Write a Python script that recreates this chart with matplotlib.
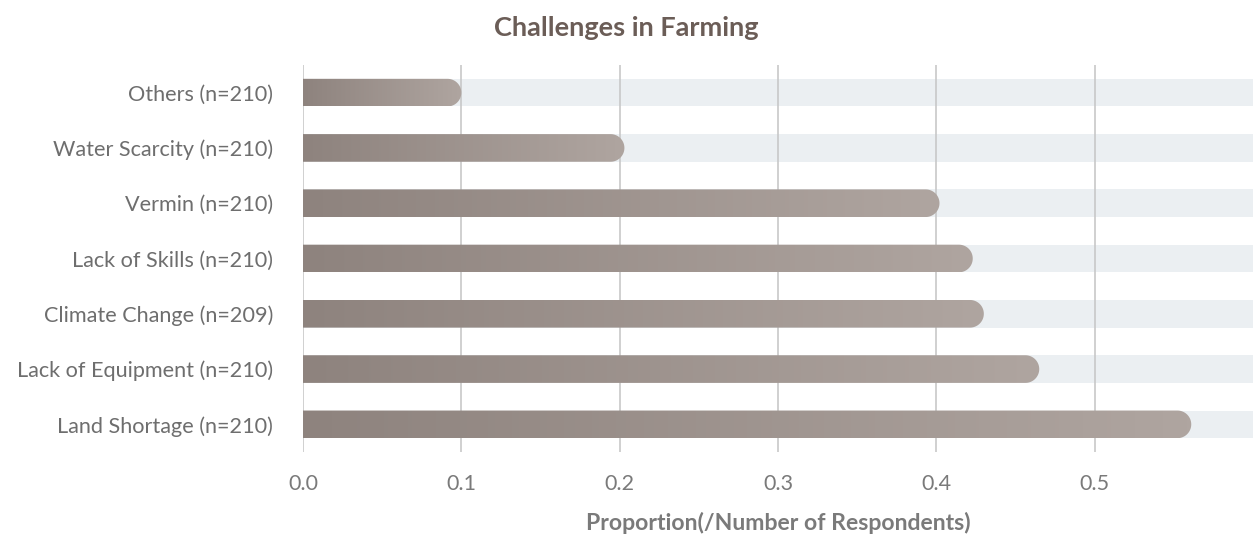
import numpy as np
import matplotlib
matplotlib.use("Agg")
import matplotlib.pyplot as plt
from matplotlib.colors import LinearSegmentedColormap
from matplotlib.patches import PathPatch
from matplotlib.path import Path

plt.rcParams['font.family'] = ['Lato', 'DejaVu Sans']

# Challenges reported, listed bottom to top
categories = [
    "Land Shortage (n=210)",
    "Lack of Equipment (n=210)",
    "Climate Change (n=209)",
    "Lack of Skills (n=210)",
    "Vermin (n=210)",
    "Water Scarcity (n=210)",
    "Others (n=210)",
]
proportions = [0.561, 0.465, 0.430, 0.423, 0.402, 0.203, 0.100]
x_ticks = [0.0, 0.1, 0.2, 0.3, 0.4, 0.5]
x_max = 0.6

title = "Challenges in Farming"
x_label = "Proportion(/Number of Respondents)"

bar_left = "#8e837e"
bar_right = "#afa5a0"
track_color = "#ebeff2"
grid_color = "#c8c8c8"
label_color = "#6e6e6e"
title_color = "#6b5d57"

fig = plt.figure(figsize=(12.53, 5.38), dpi=100)
ax = fig.add_axes([303 / 1253, 1 - 452 / 538, 1 - 303 / 1253, (452 - 65) / 538])
n = len(categories)
ax.set_xlim(0, x_max)
ax.set_ylim(-0.5, n - 0.5)

bar_h = 0.5
ypos = np.arange(n)

# background tracks
ax.barh(ypos, [x_max] * n, height=bar_h, color=track_color, zorder=1, linewidth=0)

# vertical gridlines
for t in x_ticks:
    ax.axvline(t, color=grid_color, linewidth=1.2, zorder=2)

# convert the bar half-height into data units on both axes
fig.canvas.draw()
bbox = ax.get_window_extent()
px_per_x = bbox.width / x_max
px_per_y = bbox.height / n
r_y = bar_h / 2
r_x = r_y * px_per_y / px_per_x

cmap = LinearSegmentedColormap.from_list("bar", [bar_left, bar_right])
grad = np.linspace(0, 1, 256).reshape(1, -1)

for y, v in zip(ypos, proportions):
    x0, x1 = 0.0, v
    y0, y1 = y - bar_h / 2, y + bar_h / 2
    cx = x1 - r_x
    theta = np.linspace(-np.pi / 2, np.pi / 2, 40)
    arc = np.column_stack([cx + r_x * np.cos(theta), y + r_y * np.sin(theta)])
    verts = np.vstack([[x0, y0], [cx, y0], arc, [cx, y1], [x0, y1], [x0, y0]])
    codes = [Path.MOVETO] + [Path.LINETO] * (len(verts) - 2) + [Path.CLOSEPOLY]
    patch = PathPatch(Path(verts, codes), facecolor="none", edgecolor="none")
    ax.add_patch(patch)
    im = ax.imshow(grad, cmap=cmap, aspect="auto", extent=[x0, x1, y0, y1],
                   origin="lower", zorder=3, interpolation="bilinear")
    im.set_clip_path(patch)

ax.set_xlim(0, x_max)
ax.set_ylim(-0.5, n - 0.5)

ax.set_yticks(ypos)
ax.set_yticklabels(categories)
ax.set_xticks(x_ticks)
ax.set_xticklabels([f"{t:.1f}" for t in x_ticks])
ax.tick_params(axis="y", length=0, pad=21.5, labelsize=15.6, labelcolor=label_color)
ax.tick_params(axis="x", length=0, pad=16, labelsize=15.5, labelcolor="#7a7a7a")
for s in ax.spines.values():
    s.set_visible(False)

ax.set_xlabel(x_label, fontsize=16.6, fontweight="bold", color="#7a7a7a", labelpad=13)
fig.text(0.5, 1 - 28 / 538, title, ha="center", va="center", fontsize=19.5,
         fontweight="bold", color=title_color)

fig.savefig("out.png", dpi=100)
